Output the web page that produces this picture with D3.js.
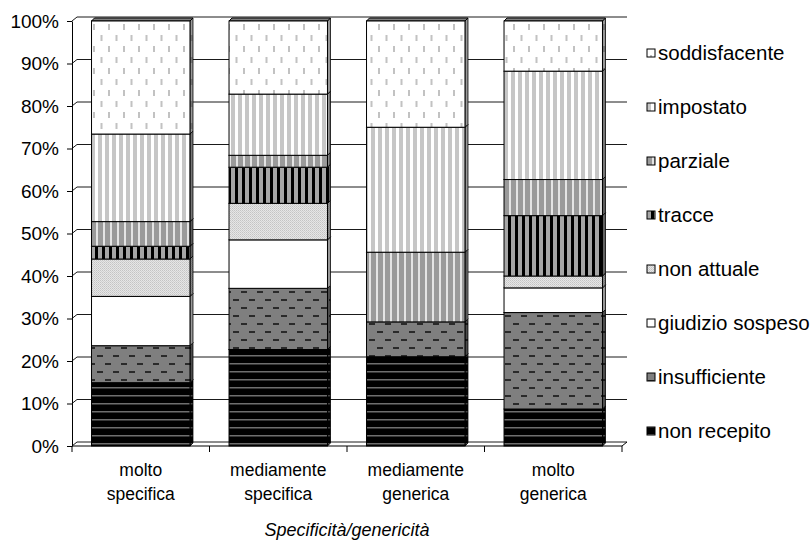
<!DOCTYPE html>
<html>
<head>
<meta charset="utf-8">
<script src="https://cdn.jsdelivr.net/npm/d3@7"></script>
<style>
  body { margin: 0; background: #fff; }
  svg text { font-family: "Liberation Sans", Arial, sans-serif; fill: #000; }
</style>
</head>
<body>
<script>
// categorie (asse x) e serie, dal basso verso l'alto
var categories = ["molto specifica", "mediamente specifica", "mediamente generica", "molto generica"];
var seriesNames = ["non recepito", "insufficiente", "giudizio sospeso", "non attuale",
                   "tracce", "parziale", "impostato", "soddisfacente"];

// percentuali
var nonRecepito     = [14.9, 22.7, 21.0, 8.7];
var insufficiente   = [8.7, 14.4, 8.2, 22.7];
var giudizioSospeso = [11.6, 11.4, 0, 5.8];
var nonAttuale      = [8.8, 8.6, 0, 2.8];
var tracce          = [3.0, 8.5, 0, 14.2];
var parziale        = [5.8, 2.8, 16.4, 8.5];
var impostato       = [20.6, 14.4, 29.4, 25.5];
var soddisfacente   = [26.6, 17.2, 25.0, 11.8];

var yTicks = [0, 10, 20, 30, 40, 50, 60, 70, 80, 90, 100];
var axisTitle = "Specificità/genericità";

var seriesValues = [nonRecepito, insufficiente, giudizioSospeso, nonAttuale,
                    tracce, parziale, impostato, soddisfacente];

var w = 812, h = 542;
var wdx = 5, wdy = 4;   // profondita' pareti
var bdx = 3, bdy = 3;   // profondita' barre

var rows = categories.map(function(c, i) {
    var r = {cat: c};
    seriesNames.forEach(function(s, j) { r[s] = seriesValues[j][i]; });
    return r;
});

var stacked = d3.stack().keys(seriesNames)(rows);

var svg = d3.select("body")
            .append("svg")
            .attr("width", w)
            .attr("height", h);

// ---- pattern di riempimento ----
var defs = svg.append("defs");

function pat(id, pw, ph, bg) {
    var p = defs.append("pattern")
                .attr("id", id)
                .attr("patternUnits", "userSpaceOnUse")
                .attr("width", pw)
                .attr("height", ph);
    p.append("rect").attr("width", pw).attr("height", ph).attr("fill", bg);
    return p;
}

// non recepito: nero con righe orizzontali grigie
pat("p0", 8, 8, "#000")
    .append("rect").attr("x", 0).attr("y", 3).attr("width", 8).attr("height", 1.5).attr("fill", "#6e6e6e");

// insufficiente: grigio con trattini scuri sfalsati
var p1 = pat("p1", 16, 16, "#7f7f7f");
p1.append("rect").attr("x", 1).attr("y", 3).attr("width", 6).attr("height", 2).attr("fill", "#2a2a2a");
p1.append("rect").attr("x", 9).attr("y", 11).attr("width", 6).attr("height", 2).attr("fill", "#2a2a2a");

// giudizio sospeso: bianco
pat("p2", 4, 4, "#fff");

// non attuale: grigio chiaro puntinato
var p3 = pat("p3", 2, 2, "#e6e6e6");
p3.append("rect").attr("x", 0).attr("y", 0).attr("width", 1).attr("height", 1).attr("fill", "#c4c4c4");
p3.append("rect").attr("x", 1).attr("y", 1).attr("width", 1).attr("height", 1).attr("fill", "#d0d0d0");

// tracce: righe verticali nere e grigie
pat("p4", 7, 8, "#a6a6a6")
    .append("rect").attr("x", 4).attr("y", 0).attr("width", 3).attr("height", 8).attr("fill", "#000");

// parziale: righe verticali grigio medio / chiaro
pat("p5", 7, 8, "#9a9a9a")
    .append("rect").attr("x", 5).attr("y", 0).attr("width", 2).attr("height", 8).attr("fill", "#e4e4e4");

// impostato: righe verticali grigio chiaro / bianco
pat("p6", 7, 8, "#fff")
    .append("rect").attr("x", 0).attr("y", 0).attr("width", 4).attr("height", 8).attr("fill", "#c6c6c6");

// soddisfacente: bianco con trattini verticali grigi
var p7 = pat("p7", 15, 22, "#fff");
p7.append("rect").attr("x", 3).attr("y", 2).attr("width", 2).attr("height", 6).attr("fill", "#c2c2c2");
p7.append("rect").attr("x", 10.5).attr("y", 13).attr("width", 2).attr("height", 6).attr("fill", "#c2c2c2");

// ---- scale ----
var xScale = d3.scaleBand()
               .domain(categories)
               .range([72, 622])
               .paddingInner(0.284)
               .paddingOuter(0.142);

var yScale = d3.scaleLinear()
               .domain([0, 100])
               .range([446, 21]);

var x0 = xScale.range()[0], x1 = xScale.range()[1];

// ---- pareti e griglia ----
var grid = svg.append("g");
grid.selectAll("path")
    .data(yTicks)
    .enter()
    .append("path")
    .attr("d", function(d) {
        var y = yScale(d);
        return "M" + x0 + "," + y + "L" + (x0 + wdx) + "," + (y - wdy) + "L" + (x1 + wdx) + "," + (y - wdy);
    })
    .attr("fill", "none")
    .attr("stroke", "#1a1a1a")
    .attr("stroke-width", 1);

// pavimento: bordo anteriore e laterale
grid.append("path")
    .attr("d", "M" + x0 + "," + yScale(0) + "L" + x1 + "," + yScale(0) +
               "L" + (x1 + wdx) + "," + (yScale(0) - wdy))
    .attr("fill", "none")
    .attr("stroke", "#000");

// ---- barre ----
var barGroup = svg.append("g");
var bw = xScale.bandwidth();

function sidePath(d) {
    var xa = xScale(d.data.cat) + bw, yt = yScale(d[1]), yb = yScale(d[0]);
    return "M" + xa + "," + yt + "L" + (xa + bdx) + "," + (yt - bdy) +
           "L" + (xa + bdx) + "," + (yb - bdy) + "L" + xa + "," + yb + "Z";
}

stacked.forEach(function(layer, si) {
    var fillUrl = "url(#p" + si + ")";
    var g = barGroup.append("g");
    var segs = layer.filter(function(d) { return d[1] - d[0] > 0; });

    // fianco destro
    g.selectAll("path.side")
     .data(segs)
     .enter()
     .append("path")
     .attr("class", "side")
     .attr("d", sidePath)
     .attr("fill", fillUrl)
     .attr("stroke", "#000")
     .attr("stroke-width", 0.8);
    g.selectAll("path.shade")
     .data(segs)
     .enter()
     .append("path")
     .attr("class", "shade")
     .attr("d", sidePath)
     .attr("fill", "rgba(0,0,0,0.4)");

    // faccia superiore
    g.selectAll("path.top")
     .data(segs)
     .enter()
     .append("path")
     .attr("class", "top")
     .attr("d", function(d) {
         var xa = xScale(d.data.cat), yt = yScale(d[1]);
         return "M" + xa + "," + yt + "L" + (xa + bdx) + "," + (yt - bdy) +
                "L" + (xa + bw + bdx) + "," + (yt - bdy) + "L" + (xa + bw) + "," + yt + "Z";
     })
     .attr("fill", "#808080")
     .attr("stroke", "#000")
     .attr("stroke-width", 1);

    // faccia frontale
    g.selectAll("rect")
     .data(segs)
     .enter()
     .append("rect")
     .attr("x", function(d) { return xScale(d.data.cat); })
     .attr("y", function(d) { return yScale(d[1]); })
     .attr("width", bw)
     .attr("height", function(d) { return yScale(d[0]) - yScale(d[1]); })
     .attr("fill", fillUrl)
     .attr("stroke", "#000")
     .attr("stroke-width", 1);
});

// ---- assi ----
var yAxis = d3.axisLeft(yScale)
              .tickValues(yTicks)
              .tickFormat(function(d) { return d + "%"; })
              .tickSize(5)
              .tickSizeOuter(0)
              .tickPadding(8);

var yG = svg.append("g")
            .attr("transform", "translate(" + x0 + ",0)")
            .call(yAxis);
yG.attr("font-family", null);
yG.selectAll("text").attr("font-size", 19);
yG.select(".domain").attr("stroke", "#000");

var xAxis = d3.axisBottom(xScale)
              .tickSize(0)
              .tickSizeOuter(0)
              .tickFormat("");

var xG = svg.append("g")
            .attr("transform", "translate(0," + yScale(0) + ")")
            .call(xAxis);
xG.attr("font-family", null);
xG.select(".domain").remove();

// tacche ai confini delle categorie
var bounds = categories.map(function(c) { return xScale(c) - xScale.step() * xScale.paddingInner() / 2; });
bounds[0] = x0;
bounds.push(x1);
xG.selectAll("line.sep")
  .data(bounds)
  .enter()
  .append("line")
  .attr("class", "sep")
  .attr("x1", function(d) { return d; })
  .attr("x2", function(d) { return d; })
  .attr("y1", 0)
  .attr("y2", 6)
  .attr("stroke", "#000");

xG.selectAll(".tick text").remove();
xG.selectAll(".tick")
  .append("text")
  .attr("text-anchor", "middle")
  .attr("font-size", 17.5)
  .selectAll("tspan")
  .data(function(d) { return d.split(" "); })
  .enter()
  .append("tspan")
  .attr("x", 0)
  .attr("y", function(d, i) { return 30 + i * 24; })
  .text(function(d) { return d; });

svg.append("text")
   .attr("x", (x0 + x1) / 2)
   .attr("y", 536)
   .attr("text-anchor", "middle")
   .attr("font-size", 18)
   .attr("font-style", "italic")
   .text(axisTitle);

// ---- legenda ----
var legendOrder = seriesNames.slice().reverse();
var legend = svg.append("g")
                .attr("transform", "translate(647,53)");

var items = legend.selectAll("g")
                  .data(legendOrder)
                  .enter()
                  .append("g")
                  .attr("transform", function(d, i) { return "translate(0," + (i * 54) + ")"; });

items.append("rect")
     .attr("x", 0)
     .attr("y", -4)
     .attr("width", 8)
     .attr("height", 8)
     .attr("fill", function(d) { return "url(#p" + seriesNames.indexOf(d) + ")"; })
     .attr("stroke", "#000")
     .attr("stroke-width", 1);

items.append("text")
     .attr("x", 11)
     .attr("y", 0)
     .attr("dy", "0.35em")
     .attr("font-size", 20.5)
     .text(function(d) { return d; });
</script>
</body>
</html>
